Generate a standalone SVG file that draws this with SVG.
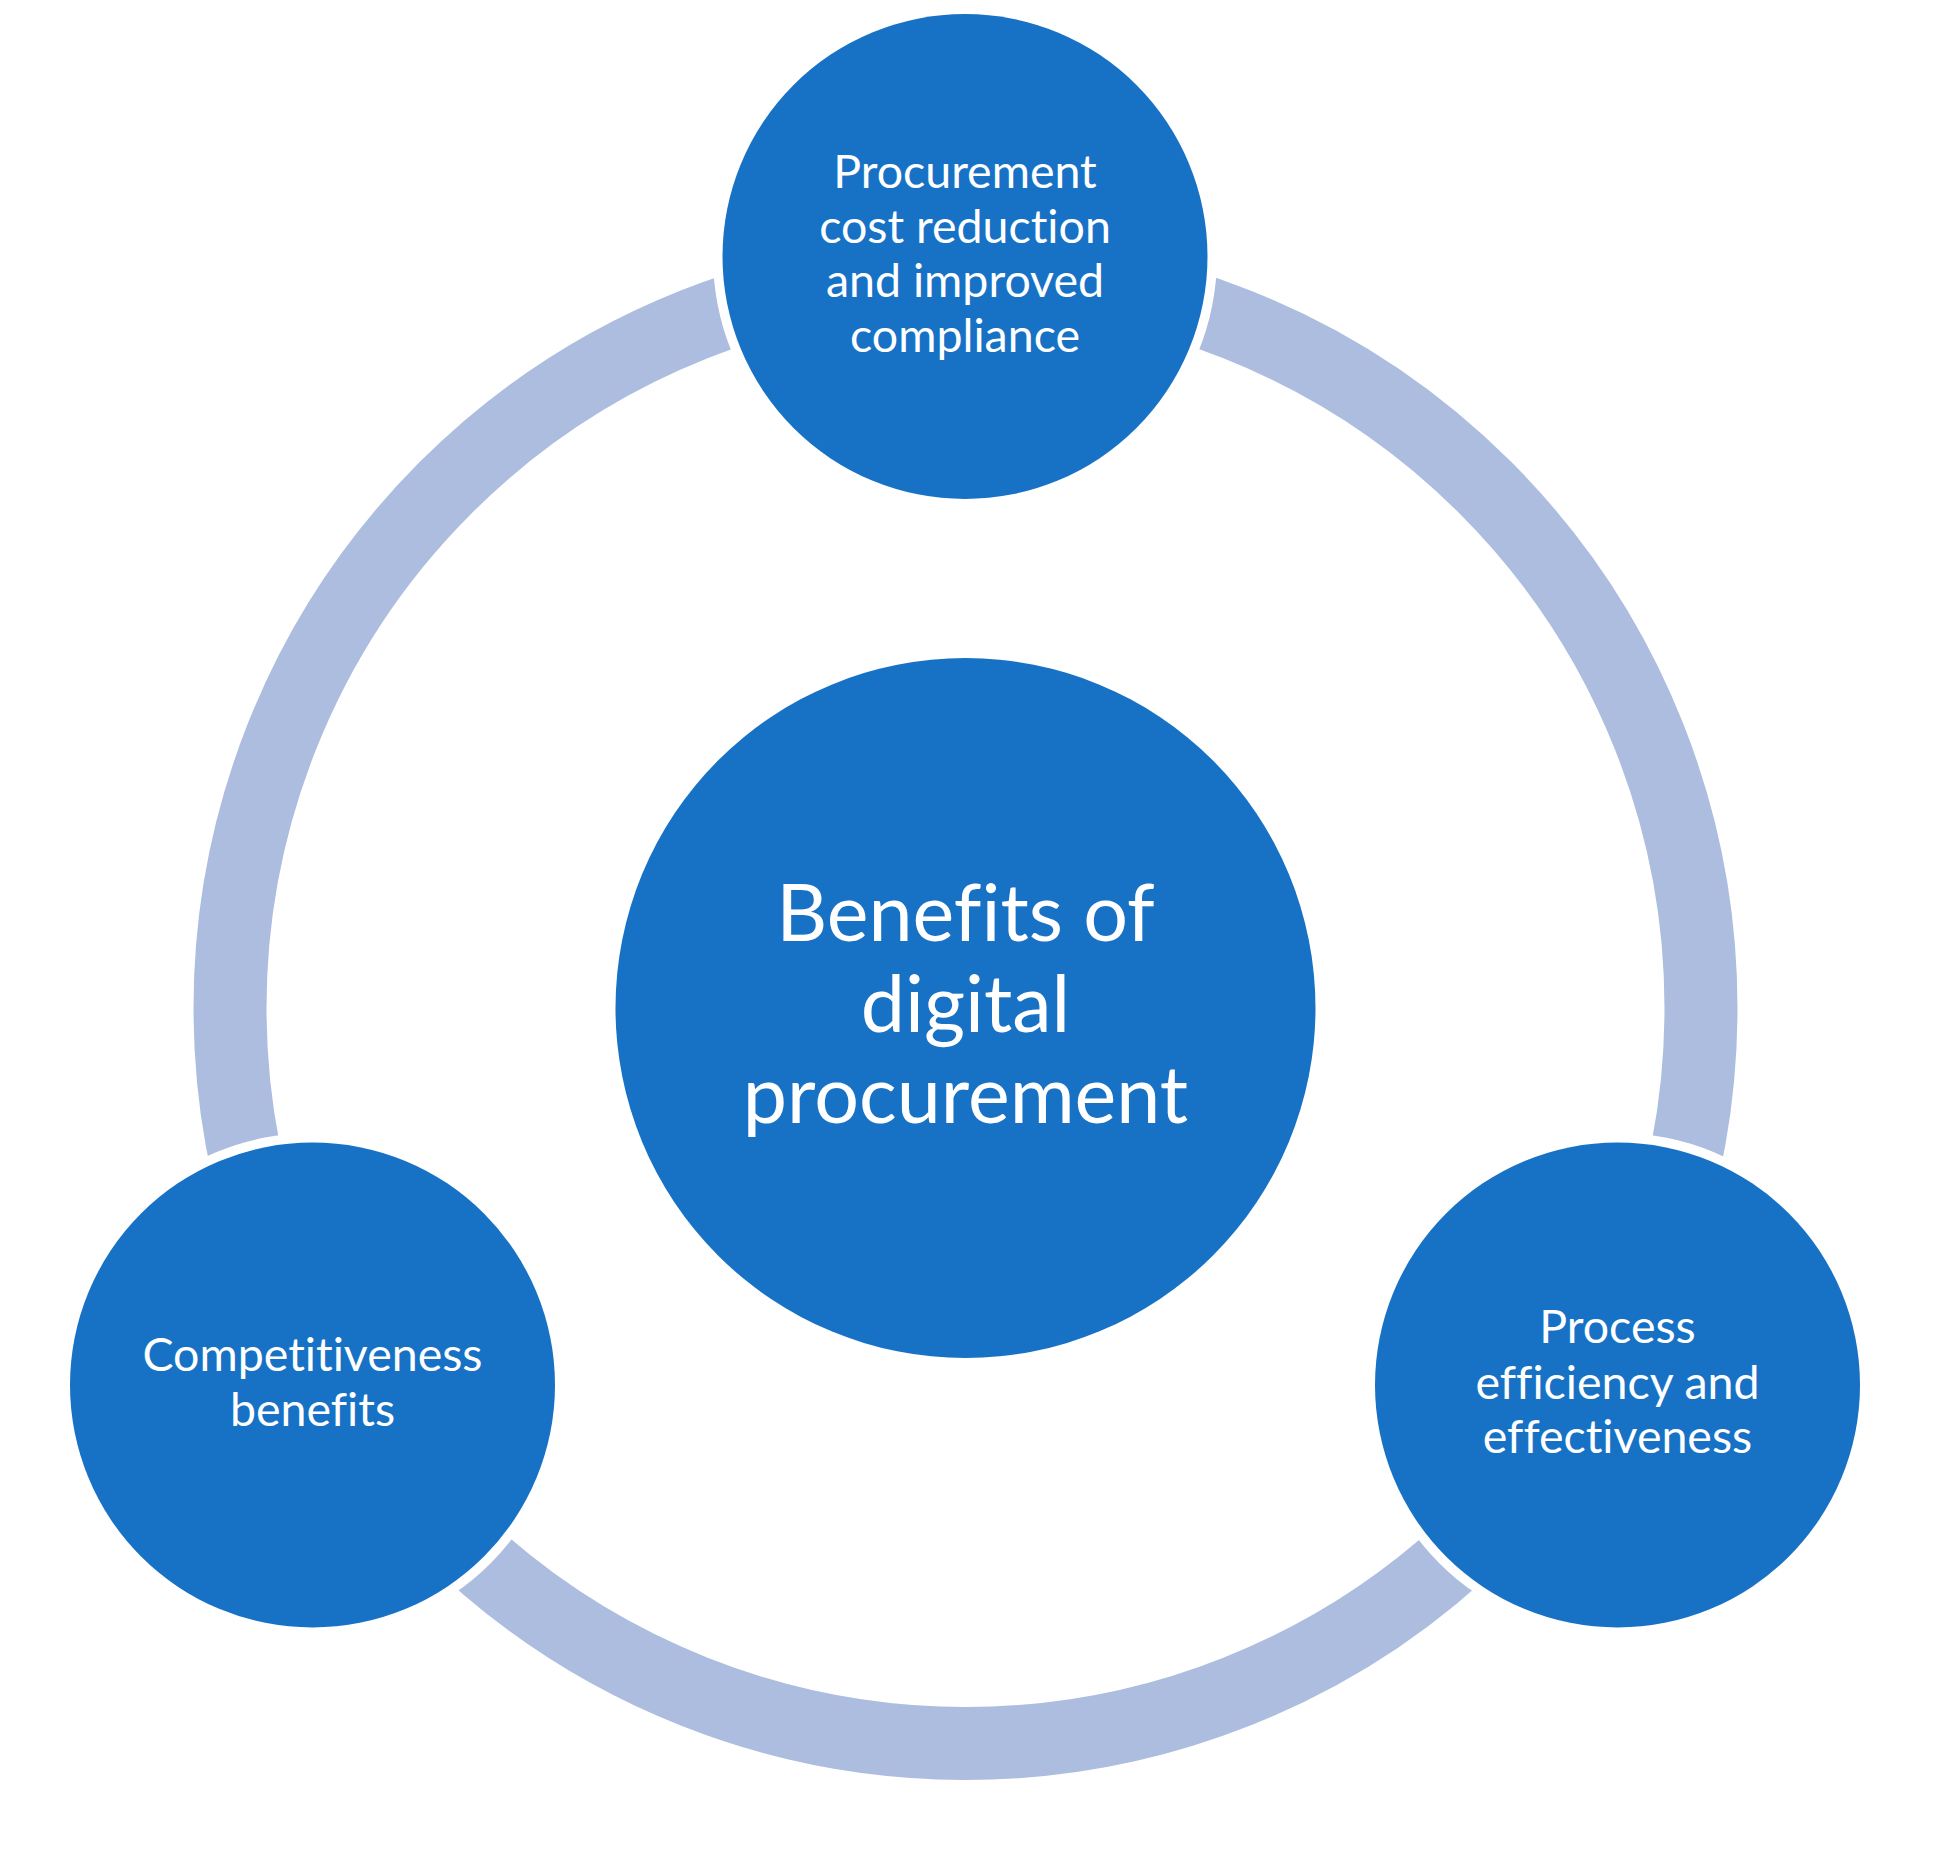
<svg xmlns="http://www.w3.org/2000/svg" width="1958" height="1855" viewBox="0 0 1958 1855">
<style>
.ring{fill:none;stroke:#ACBDDF;stroke-width:73}
.gap{fill:#FFFFFF}
.node{fill:#1772C6}
.lbl{font-family:Lato,"Liberation Sans",sans-serif;fill:#FFFFFF;text-anchor:middle;font-size:46.5px;font-variant-ligatures:none;font-feature-settings:"liga" 0,"clig" 0,"dlig" 0}
.big{font-size:79px}
</style>
<rect width="1958" height="1855" fill="#FFFFFF"/>
<g id="connectors">
<circle class="ring" cx="965.5" cy="1008" r="735.5"/>
</g>
<g id="node-center">
<circle class="node" cx="965.5" cy="1008" r="350"/>
<text class="lbl big"><tspan x="965.5" y="941">Benefits of</tspan><tspan x="965.5" y="1032">digital</tspan><tspan x="965.5" y="1123">procurement</tspan></text>
</g>
<g id="node-top">
<circle class="gap" cx="965" cy="256.5" r="252"/>
<circle class="node" cx="965" cy="256.5" r="242.5"/>
<text class="lbl"><tspan x="965" y="188">Procurement</tspan><tspan x="965" y="242.5">cost reduction</tspan><tspan x="965" y="297">and improved</tspan><tspan x="965" y="352">compliance</tspan></text>
</g>
<g id="node-left">
<circle class="gap" cx="312.5" cy="1385" r="252"/>
<circle class="node" cx="312.5" cy="1385" r="242.5"/>
<text class="lbl"><tspan x="312.5" y="1371">Competitiveness</tspan><tspan x="312.5" y="1426">benefits</tspan></text>
</g>
<g id="node-right">
<circle class="gap" cx="1617.5" cy="1385" r="252"/>
<circle class="node" cx="1617.5" cy="1385" r="242.5"/>
<text class="lbl"><tspan x="1617.5" y="1343">Process</tspan><tspan x="1617.5" y="1399">efficiency and</tspan><tspan x="1617.5" y="1453">effectiveness</tspan></text>
</g>
</svg>
